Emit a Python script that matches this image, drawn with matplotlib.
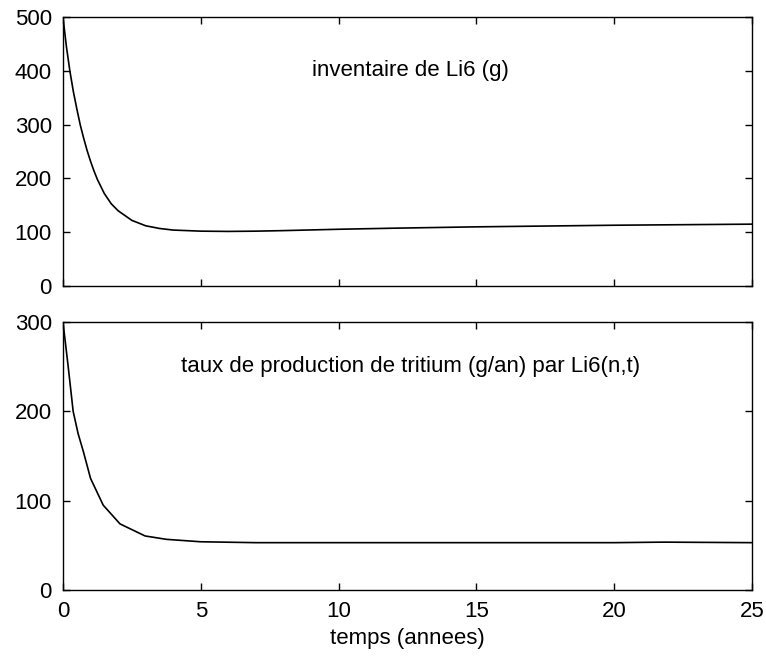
import numpy as np
import matplotlib.pyplot as plt

plt.rcParams['font.family'] = ['Liberation Sans', 'DejaVu Sans']
plt.rcParams['font.size'] = 16

# inventaire de Li6 (g)
t_li6 = [0, 0.125, 0.25, 0.375, 0.5, 0.625, 0.75, 0.875, 1.0, 1.125, 1.25, 1.5,
         1.75, 2.0, 2.5, 3.0, 3.5, 4.0, 5.0, 6.0, 7.0, 8.0, 10.0, 12.0, 15.0,
         20.0, 25.0]
li6 = [500, 445, 400, 362, 330, 300, 275, 252, 232, 214, 198, 172,
       153, 140, 122, 112, 107, 104, 102, 101.5, 102, 103, 105.5, 107.5, 110,
       113, 115]

# taux de production de tritium (g/an)
t_trit = [0, 0.19, 0.37, 0.55, 0.74, 1.0, 1.46, 2.07, 2.98, 3.76, 5.0, 7.0,
          10.0, 15.0, 20.0, 21.8, 25.0]
trit = [300, 250, 200, 175, 155, 125, 95, 74, 60.5, 56.7, 54, 53,
        53, 53, 53, 53.6, 53]

fig = plt.figure(figsize=(7.66, 6.56), dpi=100)
ax1 = fig.add_axes([0.0822, 0.564, 0.8995, 0.410])
ax2 = fig.add_axes([0.0822, 0.1006, 0.8995, 0.4085])

ax1.plot(t_li6, li6, color='black', lw=1.2)
ax1.set_xlim(0, 25)
ax1.set_ylim(0, 500)
ax1.set_yticks([0, 100, 200, 300, 400, 500])
ax1.set_xticks([0, 5, 10, 15, 20, 25])
ax1.set_xticklabels([])
ax1.text(12.6, 400, "inventaire de Li6 (g)", ha='center', va='center')

ax2.plot(t_trit, trit, color='black', lw=1.2)
ax2.set_xlim(0, 25)
ax2.set_ylim(0, 300)
ax2.set_yticks([0, 100, 200, 300])
ax2.set_xticks([0, 5, 10, 15, 20, 25])
ax2.set_xlabel("temps (annees)", labelpad=4)
ax2.text(12.6, 250, "taux de production de tritium (g/an) par Li6(n,t)",
         ha='center', va='center')

for ax in (ax1, ax2):
    ax.tick_params(direction='in', top=True, right=True, length=5, width=1, pad=8)
    for s in ax.spines.values():
        s.set_linewidth(1)

fig.savefig("out.png", dpi=100)
